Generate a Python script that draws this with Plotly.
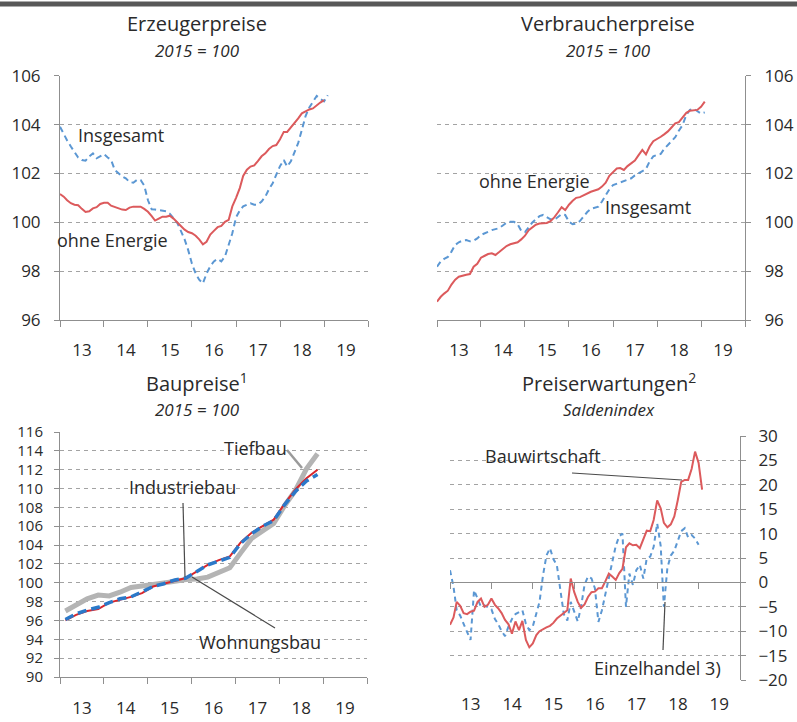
import pandas as pd
import plotly.graph_objects as go

# ---------------- Data ----------------
# Erzeugerpreise (2015 = 100), monthly from Jan 2013
erz_ohne_energie = [
    101.16, 101.05, 100.9, 100.78, 100.72, 100.7, 100.55, 100.42, 100.45, 100.57, 100.62, 100.75,
    100.8, 100.8, 100.68, 100.62, 100.57, 100.52, 100.5, 100.6, 100.64, 100.64, 100.64, 100.55,
    100.43, 100.25, 100.07, 100.15, 100.23, 100.23, 100.27, 100.15, 99.98, 99.85, 99.7, 99.6,
    99.55, 99.45, 99.3, 99.1, 99.2, 99.5, 99.65, 99.8, 99.85, 100.02, 100.1, 100.65,
    101.0, 101.4, 101.9, 102.15, 102.28, 102.33, 102.5, 102.7, 102.82, 103.0, 103.12, 103.16,
    103.4, 103.7, 103.7, 103.88, 104.05, 104.25, 104.46, 104.55, 104.62, 104.66, 104.8, 104.9,
    105.0]
erz_insgesamt = [
    103.91, 103.6, 103.35, 103.1, 102.85, 102.65, 102.55, 102.52, 102.7, 102.82, 102.62, 102.7,
    102.79, 102.65, 102.55, 102.14, 102.0, 101.88, 101.8, 101.65, 101.62, 101.73, 101.73, 101.5,
    100.9, 100.53, 100.52, 100.5, 100.5, 100.45, 100.35, 100.15, 99.98, 99.65, 99.3, 98.86,
    98.3, 97.9, 97.65, 97.5, 97.9, 98.2, 98.4, 98.5, 98.4, 98.6, 99.1, 99.55,
    100.2, 100.48, 100.65, 100.72, 100.78, 100.72, 100.72, 100.85, 101.05, 101.35, 101.6, 101.95,
    102.3, 102.55, 102.28, 102.5, 102.85, 103.25, 103.78, 104.35, 104.7, 104.95, 105.17, 105.05,
    104.95, 105.2]

# Verbraucherpreise (2015 = 100), monthly from Jan 2013
vpi_ohne_energie = [
    96.75, 96.95, 97.08, 97.2, 97.45, 97.65, 97.77, 97.82, 97.85, 97.88, 98.18, 98.3,
    98.55, 98.63, 98.7, 98.73, 98.66, 98.78, 98.92, 99.03, 99.1, 99.14, 99.18, 99.3,
    99.45, 99.68, 99.78, 99.9, 99.95, 99.95, 99.97, 100.05, 100.2, 100.4, 100.62, 100.5,
    100.72, 100.88, 101.0, 101.03, 101.1, 101.2, 101.25, 101.3, 101.35, 101.46, 101.62, 101.9,
    102.05, 102.2, 102.22, 102.14, 102.3, 102.4, 102.53, 102.75, 102.96, 102.78, 103.1, 103.32,
    103.4, 103.5, 103.6, 103.72, 103.88, 104.05, 104.1, 104.3, 104.48, 104.57, 104.6, 104.6,
    104.73, 104.94]
vpi_insgesamt = [
    98.18, 98.4, 98.5, 98.58, 98.8, 99.07, 99.18, 99.25, 99.27, 99.22, 99.25, 99.34,
    99.48, 99.56, 99.61, 99.68, 99.72, 99.76, 99.87, 99.98, 100.02, 100.02, 99.92, 99.65,
    99.6, 99.82, 99.98, 100.12, 100.25, 100.3, 100.2, 100.12, 100.1, 100.2, 100.33, 100.3,
    100.02, 99.92, 99.95, 100.05, 100.23, 100.42, 100.55, 100.6, 100.64, 100.85, 101.1, 101.35,
    101.52, 101.58, 101.62, 101.67, 101.72, 101.8, 101.92, 102.01, 102.1, 102.18, 102.5, 102.7,
    102.76, 102.8, 103.0, 103.15, 103.3, 103.48, 103.75, 103.98, 104.4, 104.6, 104.65, 104.55,
    104.45, 104.5]

# Baupreise (2015 = 100), quarterly (Feb, May, Aug, Nov) from 2013
bau_wohnungsbau = [96.0, 96.6, 97.0, 97.2, 97.9, 98.2, 98.5, 98.9, 99.6, 99.9, 100.2, 100.5,
                   101.2, 101.9, 102.4, 102.8, 104.3, 105.3, 106.0, 106.7, 108.4, 109.9, 111.1, 112.0]
bau_industriebau = [96.1, 96.7, 97.1, 97.4, 97.9, 98.3, 98.5, 99.0, 99.6, 99.9, 100.3, 100.5,
                    101.2, 101.9, 102.3, 102.7, 104.2, 105.2, 106.0, 106.6, 108.3, 109.7, 110.8, 111.5]
bau_tiefbau = [97.0, 97.7, 98.3, 98.7, 98.6, 99.0, 99.5, 99.65, 99.8, 99.9, 100.15, 100.35,
               100.4, 100.6, 101.1, 101.6, 103.2, 104.7, 105.5, 106.3, 108.2, 109.8, 112.1, 113.7]

# Preiserwartungen (Saldenindex), monthly from Jan 2013
pe_bauwirtschaft = [
    -8.7, -7.2, -4.0, -4.8, -6.3, -6.5, -6.0, -5.8, -4.0, -3.3, -5.0, -4.6,
    -3.3, -4.6, -5.3, -6.3, -7.7, -8.6, -10.5, -8.0, -9.8, -7.9, -11.8, -13.3,
    -12.5, -10.8, -10.0, -9.5, -9.2, -8.9, -8.3, -7.4, -6.8, -6.3, -5.7, 0.8,
    -2.0, -4.0, -5.2, -4.5, -3.0, -2.0, -1.9, -1.2, -1.2, 0.2, 1.8, 1.2,
    0.5, 1.9, 2.8, 7.2, 8.0, 7.6, 7.7, 7.0, 9.0, 10.6, 10.5, 12.8,
    16.8, 15.2, 12.2, 11.3, 11.9, 13.5, 16.8, 20.6, 21.0, 21.0, 23.3, 26.8,
    24.5, 19.0]
pe_einzelhandel = [
    2.5, -0.9, -5.7, -6.8, -8.5, -10.0, -11.8, -1.6, -3.2, -5.0, -4.7, -5.1,
    -5.5, -7.5, -8.5, -10.0, -11.0, -9.0, -7.5, -6.5, -6.0, -5.7, -8.5, -9.8,
    -9.0, -6.5, -4.0, 1.5, 5.5, 7.0, 4.8, 3.5, -2.0, -6.5, -7.8, -4.0,
    -6.0, -8.0, -5.0, -0.5, 1.2, 0.8, -1.2, -8.1, -5.7, -2.3, 1.2, 4.0,
    7.5, 9.5, 10.0, -5.0, 1.8, -0.5, 2.5, 3.6, 0.8, 4.9, 5.3, 7.3,
    12.1, 7.5, -5.0, 3.0, 5.5, 6.5, 8.5, 10.5, 11.1, 9.2, 9.7, 9.0,
    7.7]

START = "2013-01-01"
X_RANGE = ["2013-01-01", "2020-01-01"]


def monthly(values):
    return pd.date_range(START, periods=len(values), freq="MS")


def quarterly(values):
    return pd.date_range("2013-02-01", periods=len(values), freq="3MS") + pd.Timedelta(days=14)


RED = "#dc5a5c"
BLUE = "#5b97d3"
RED_B = "#d8262c"
BLUE_B = "#2b79c9"
GREY_T = "#b4b4b4"
AXIS = "#8f8f8f"
GRID = "#a3a3a3"
TXT = "#2a2a2a"
FONT = "Open Sans"

fig = go.Figure()

# Panel 1
fig.add_trace(go.Scatter(x=monthly(erz_insgesamt), y=erz_insgesamt, mode="lines",
                         line=dict(color=BLUE, width=2, dash="6px,4px"), xaxis="x", yaxis="y"))
fig.add_trace(go.Scatter(x=monthly(erz_ohne_energie), y=erz_ohne_energie, mode="lines",
                         line=dict(color=RED, width=2), xaxis="x", yaxis="y"))
# Panel 2
fig.add_trace(go.Scatter(x=monthly(vpi_insgesamt), y=vpi_insgesamt, mode="lines",
                         line=dict(color=BLUE, width=2, dash="6px,4px"), xaxis="x2", yaxis="y2"))
fig.add_trace(go.Scatter(x=monthly(vpi_ohne_energie), y=vpi_ohne_energie, mode="lines",
                         line=dict(color=RED, width=2), xaxis="x2", yaxis="y2"))
# Panel 3
fig.add_trace(go.Scatter(x=quarterly(bau_tiefbau), y=bau_tiefbau, mode="lines",
                         line=dict(color=GREY_T, width=5), xaxis="x3", yaxis="y3"))
fig.add_trace(go.Scatter(x=quarterly(bau_wohnungsbau), y=bau_wohnungsbau, mode="lines",
                         line=dict(color=RED_B, width=2), xaxis="x3", yaxis="y3"))
fig.add_trace(go.Scatter(x=quarterly(bau_industriebau), y=bau_industriebau, mode="lines",
                         line=dict(color=BLUE_B, width=3.5, dash="9px,5px"), xaxis="x3", yaxis="y3"))
# Panel 4
fig.add_trace(go.Scatter(x=monthly(pe_einzelhandel), y=pe_einzelhandel, mode="lines",
                         line=dict(color=BLUE, width=2, dash="5px,4px"), xaxis="x4", yaxis="y4"))
fig.add_trace(go.Scatter(x=monthly(pe_bauwirtschaft), y=pe_bauwirtschaft, mode="lines",
                         line=dict(color=RED, width=2), xaxis="x5", yaxis="y4"))

W, H = 797, 722


def px(x):
    return x / W


def py(y):
    return 1 - y / H


tickfont = dict(family=FONT, size=17, color=TXT)


def xdate(**kw):
    d = dict(type="date", range=X_RANGE, dtick="M12", tick0=START, tickformat="%y",
             ticklabelmode="period", ticks="outside", ticklen=6, tickcolor=AXIS, tickwidth=1,
             showline=True, linecolor=AXIS, linewidth=1, showgrid=False, zeroline=False,
             tickfont=tickfont, ticklabelstandoff=9, fixedrange=True, automargin=False)
    d.update(kw)
    return d


def yax(**kw):
    d = dict(ticks="outside", ticklen=5, tickcolor=AXIS, showline=True, linecolor=AXIS, linewidth=1,
             showgrid=True, gridcolor=GRID, gridwidth=1, griddash="4px,4px", zeroline=False,
             tickfont=tickfont, ticklabelstandoff=10, fixedrange=True, automargin=False)
    d.update(kw)
    return d


top_dom = [py(320), py(75.7)]
bot3_dom = [py(677), py(432)]
bot4_dom = [py(680), py(436)]
zero_pos = bot4_dom[0] + (0 - (-20)) / 50 * (bot4_dom[1] - bot4_dom[0])

fig.update_layout(
    template="none",
    width=W, height=H, margin=dict(l=0, r=0, t=0, b=0, pad=0, autoexpand=False),
    paper_bgcolor="white", plot_bgcolor="white", showlegend=False,
    font=dict(family=FONT, color=TXT),
    xaxis=xdate(domain=[px(60), px(368)], anchor="y"),
    yaxis=yax(domain=top_dom, anchor="x", range=[96, 106], dtick=2, side="left"),
    xaxis2=xdate(domain=[px(437), px(745)], anchor="y2"),
    yaxis2=yax(domain=top_dom, anchor="x2", range=[96, 106], dtick=2, side="right"),
    xaxis3=xdate(domain=[px(60), px(367)], anchor="y3", ticklabelstandoff=10),
    yaxis3=yax(domain=bot3_dom, anchor="x3", range=[90, 116], dtick=2, side="left",
               ticklabelstandoff=8, tickfont=dict(family=FONT, size=15, color=TXT)),
    xaxis4=xdate(domain=[px(450), px(740)], anchor="y4", showline=False, ticks="",
                 ticklabelstandoff=12),
    xaxis5=xdate(domain=[px(450), px(740)], anchor="free", overlaying="x4",
                 position=zero_pos, showticklabels=False, side="bottom"),
    yaxis4=yax(domain=bot4_dom, anchor="x4", range=[-20, 30], dtick=5, side="right",
               ticklabelstandoff=9),
)

ann = []


def add_text(x, y, text, size=18, italic=False):
    t = f"<i>{text}</i>" if italic else text
    ann.append(dict(x=px(x), y=py(y), xref="paper", yref="paper", text=t, showarrow=False,
                    xanchor="center", yanchor="middle",
                    font=dict(family=FONT, size=size, color=TXT)))


# Titles
add_text(197, 23, "Erzeugerpreise", 20)
add_text(197, 50, "2015 = 100", 17, italic=True)
add_text(608, 23, "Verbraucherpreise", 20)
add_text(608, 50, "2015 = 100", 17, italic=True)
add_text(197, 382, "Baupreise<sup>1</sup>", 20)
add_text(197, 409, "2015 = 100", 17, italic=True)
add_text(609, 382, "Preiserwartungen<sup>2</sup>", 20)
add_text(609, 409, "Saldenindex", 17, italic=True)

# Series labels
add_text(121, 135, "Insgesamt")
add_text(112, 240, "ohne Energie")
add_text(534, 181, "ohne Energie")
add_text(648, 207, "Insgesamt")
add_text(255, 448, "Tiefbau")
add_text(182, 487, "Industriebau")
add_text(260, 642, "Wohnungsbau")
add_text(543, 456, "Bauwirtschaft")
add_text(657, 668, "Einzelhandel 3)")

fig.update_layout(annotations=ann)

shapes = []


def leader(x0, y0, x1, y1, color="#4a4a4a", width=1.2):
    shapes.append(dict(type="line", xref="paper", yref="paper", x0=px(x0), y0=py(y0),
                       x1=px(x1), y1=py(y1), line=dict(color=color, width=width)))


leader(287, 450, 302, 468, color="#9a9a9a", width=2.5)
leader(183, 503, 185, 577)
leader(192, 577, 275, 628)
leader(572, 473, 682, 480)
leader(663, 650, 665, 602)

# top rule
shapes.append(dict(type="rect", xref="paper", yref="paper", x0=0, x1=1, y0=py(6.5), y1=py(1.5),
                   line=dict(width=0), fillcolor="#585858"))
fig.update_layout(shapes=shapes)

fig.write_html(
    "out.html",
    config={"displayModeBar": False},
    post_script="document.body.style.margin='0';document.body.style.padding='0';"
                "document.body.style.overflow='hidden';",
)
